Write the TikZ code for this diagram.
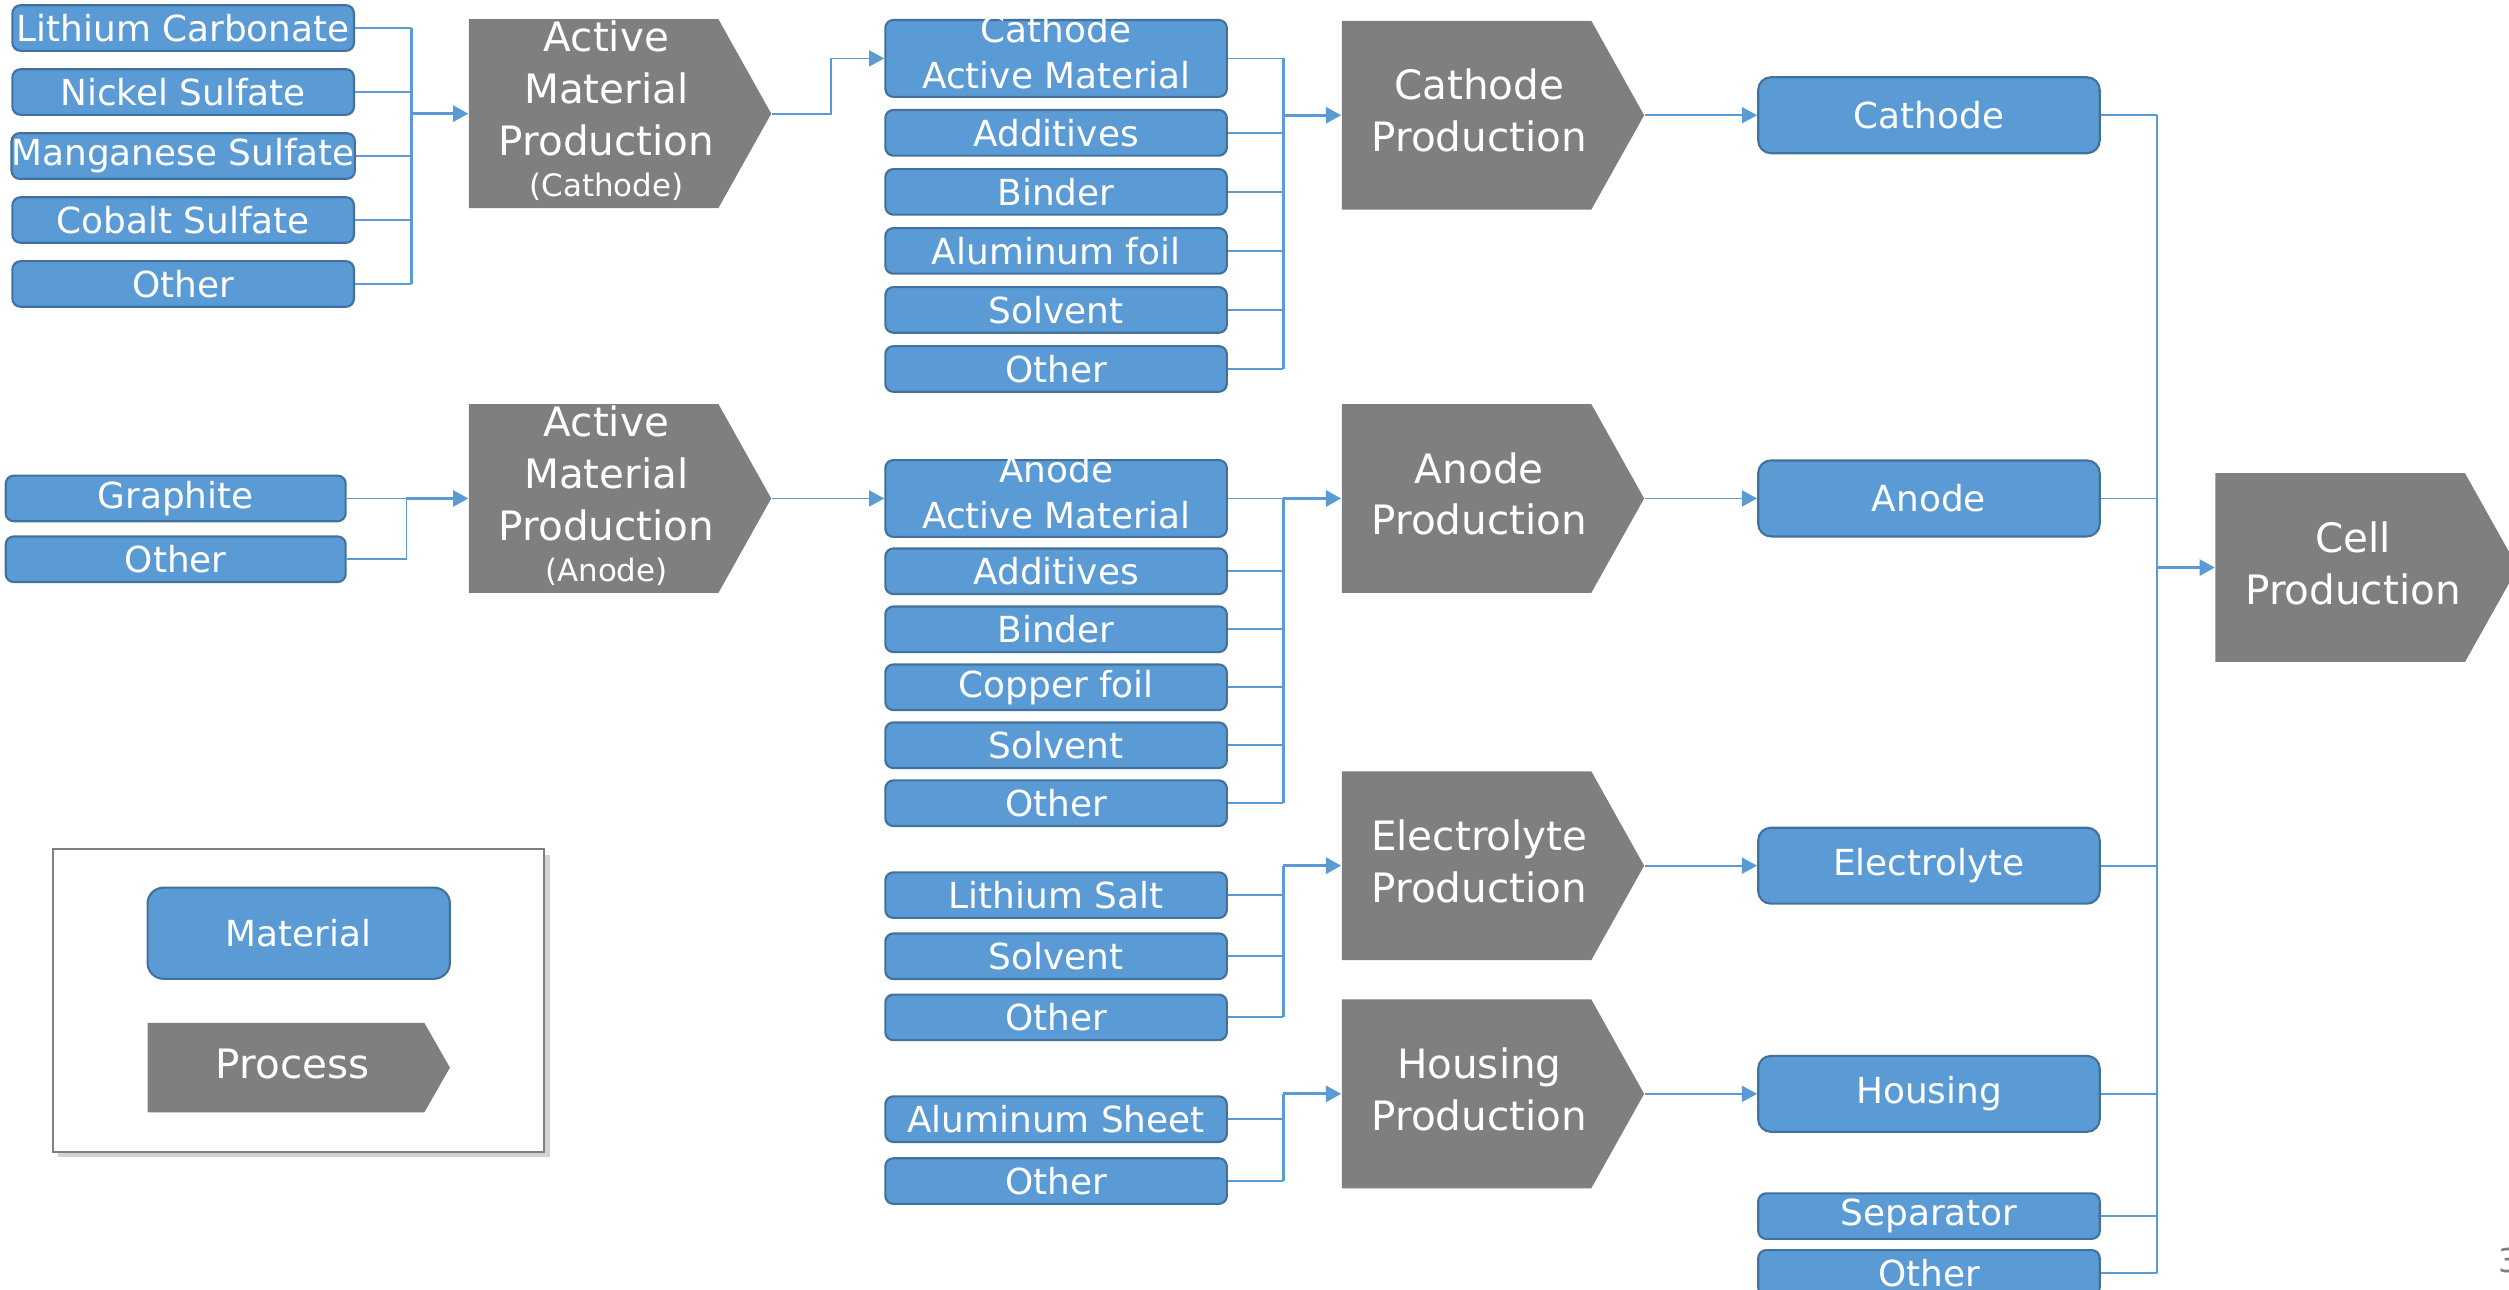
\documentclass[tikz,border=0pt]{standalone}
\usepackage{fontspec}
\setmainfont{DejaVu Sans}
\usepackage{xcolor}
\definecolor{MatBlue}{RGB}{91,155,213}
\definecolor{MatEdge}{RGB}{65,113,156}
\definecolor{ProcGray}{RGB}{127,127,127}
\definecolor{LinkBlue}{RGB}{91,155,213}
\usetikzlibrary{positioning}
\usetikzlibrary{arrows.meta}
\usetikzlibrary{shadows}

\newcommand{\twolines}[2]{\raisebox{-0.38cm}[0pt][0pt]{\begin{tabular}[b]{@{}c@{}}#1\\#2\end{tabular}}}
\newcommand{\proctext}[2][0.34cm]{\raisebox{-0.13cm}[0pt][0pt]{\begin{tabular}{@{}c@{}}#2\end{tabular}}\hspace*{#1}}

\begin{document}
\begin{tikzpicture}[
      x=0.02cm, y=-0.02cm
      , material/.style={rectangle, rounded corners=0.1cm, draw=MatEdge, fill=MatBlue, line width=0.75pt, text=white, minimum width=4.27cm, minimum height=0.57cm, inner sep=0pt, font=\fontsize{12.75}{16.4}\selectfont}
      , part/.style={material, minimum height=0.95cm, rounded corners=0.16cm}
      , tiplen/.store in=\tiplen, tiplen=0.66cm
      , process/.style={rectangle, fill=white, minimum width=3.78cm, minimum height=2.36cm, inner sep=0pt, text=white, font=\fontsize{14.4}{18.4}\selectfont,
          path picture={\fill[ProcGray] (path picture bounding box.north west) -- ([xshift=-\tiplen]path picture bounding box.north east) -- (path picture bounding box.east) -- ([xshift=-\tiplen]path picture bounding box.south east) -- (path picture bounding box.south west) -- cycle;}}
      , link/.style={color=LinkBlue, line width=0.65pt}
      , bus/.style={color=LinkBlue, line width=1pt}
      , feed/.style={->, color=LinkBlue, line width=0.65pt}
      , flow/.style={->, color=LinkBlue, line width=1pt}
      , on grid
      ]

      \tikzset{>={Triangle[length=0.19cm, width=0.2cm]}}

      \useasboundingbox (0,0) rectangle (1568,806);
      \clip (0,0) rectangle (1568,806);

      % cathode raw materials
      \node[material] (li-carb) at (114.5,17.5) {Lithium Carbonate};
      \node[material, below = 0.8cm of li-carb] (ni-sulf) {Nickel Sulfate};
      \node[material, below = 0.8cm of ni-sulf] (mn-sulf) {Manganese Sulfate};
      \node[material, below = 0.8cm of mn-sulf] (co-sulf) {Cobalt Sulfate};
      \node[material, below = 0.8cm of co-sulf] (other-cr) {Other};
      \node[process] (amp-c) at (387.5,71) {\proctext{Active\\Material\\Production\\[-0.13cm]{\fontsize{11}{13}\selectfont (Cathode)}}};

      % cathode electrode materials
      \node[material, minimum height=0.96cm] (cam) at (660,36.5) {\twolines{Cathode}{Active Material}};
      \node[material] (add-c) at (660,83) {Additives};
      \node[material, below = 0.738cm of add-c] (binder-c) {Binder};
      \node[material, below = 0.738cm of binder-c] (al-foil) {Aluminum foil};
      \node[material, below = 0.738cm of al-foil] (solvent-c) {Solvent};
      \node[material, below = 0.738cm of solvent-c] (other-c) {Other};
      \node[process] (cath-prod) at (933,72) {\proctext{Cathode\\Production}};

      % anode raw materials
      \node[material, minimum width=4.25cm] (graphite) at (109.8,311.5) {Graphite};
      \node[material, minimum width=4.25cm, below = 0.76cm of graphite] (other-ar) {Other};
      \node[process] (amp-a) at (387.5,311.5) {\proctext{Active\\Material\\Production\\[-0.13cm]{\fontsize{11}{13}\selectfont (Anode)}}};

      % anode electrode materials
      \node[material, minimum height=0.96cm] (aam) at (660,311.5) {\twolines{Anode}{Active Material}};
      \node[material] (add-a) at (660,357) {Additives};
      \node[material, below = 0.725cm of add-a] (binder-a) {Binder};
      \node[material, below = 0.725cm of binder-a] (cu-foil) {Copper foil};
      \node[material, below = 0.725cm of cu-foil] (solvent-a) {Solvent};
      \node[material, below = 0.725cm of solvent-a] (other-a) {Other};
      \node[process] (an-prod) at (933,311.5) {\proctext{Anode\\Production}};

      % electrolyte
      \node[material] (li-salt) at (660,559.4) {Lithium Salt};
      \node[material, below = 0.764cm of li-salt] (solvent-e) {Solvent};
      \node[material, below = 0.764cm of solvent-e] (other-e) {Other};
      \node[process] (el-prod) at (933,541) {\proctext{Electrolyte\\Production}};

      % housing
      \node[material] (al-sheet) at (660,699.4) {Aluminum Sheet};
      \node[material, below = 0.774cm of al-sheet] (other-h) {Other};
      \node[process] (ho-prod) at (933,683.6) {\proctext{Housing\\Production}};

      % cell parts
      \node[part] (cathode) at (1205.5,72) {Cathode};
      \node[part] (anode) at (1205.5,311.5) {Anode};
      \node[part] (electrolyte) at (1205.5,541) {Electrolyte};
      \node[part] (housing) at (1205.5,683.6) {Housing};
      \node[material] (separator) at (1205.5,760) {Separator};
      \node[material, below = 0.71cm of separator] (other-p) {Other};
      \node[process] (cell) at (1479,354.7) {\proctext{Cell\\Production}};

      % legend
      \node[draw=ProcGray, fill=white, line width=0.75pt, minimum width=6.14cm, minimum height=3.78cm,
            drop shadow={shadow xshift=0.07cm, shadow yshift=-0.07cm, opacity=0.35}] (legend) at (186.5,625.2) {};
      \node[material, minimum width=3.78cm, minimum height=1.14cm, rounded corners=0.2cm] (key-material) at (186.7,583.2) {Material};
      \node[process, minimum height=1.12cm, tiplen=0.32cm] (key-process) at (186.7,667.2) {\proctext[0.15cm]{Process}};

      \node[anchor=base west, inner sep=0pt, text=ProcGray, font=\fontsize{11.7}{14}\selectfont] (page-no) at (1561,795) {3};

      % cathode active material
      \coordinate (bus-amc) at (257,71);
      \draw[link] (li-carb.east) -- (li-carb.east -| bus-amc);
      \draw[link] (ni-sulf.east) -- (ni-sulf.east -| bus-amc);
      \draw[link] (mn-sulf.east) -- (mn-sulf.east -| bus-amc);
      \draw[link] (co-sulf.east) -- (co-sulf.east -| bus-amc);
      \draw[link] (other-cr.east) -- (other-cr.east -| bus-amc);
      \draw[bus] (li-carb.east -| bus-amc) -- (other-cr.east -| bus-amc);
      \draw[flow] (bus-amc) -- (amp-c);
      \draw[feed] (amp-c.east) -- ++(37,0) |- (cam);

      % cathode production
      \coordinate (bus-cp) at (802,72);
      \draw[link] (cam.east) -- (cam.east -| bus-cp);
      \draw[link] (add-c.east) -- (add-c.east -| bus-cp);
      \draw[link] (binder-c.east) -- (binder-c.east -| bus-cp);
      \draw[link] (al-foil.east) -- (al-foil.east -| bus-cp);
      \draw[link] (solvent-c.east) -- (solvent-c.east -| bus-cp);
      \draw[link] (other-c.east) -- (other-c.east -| bus-cp);
      \draw[bus] (cam.east -| bus-cp) -- (other-c.east -| bus-cp);
      \draw[flow] (bus-cp) -- (cath-prod);
      \draw[feed] (cath-prod.east) -- (cathode);

      % anode active material
      \coordinate (bus-ama) at (254,311.5);
      \draw[link] (graphite.east) -- (bus-ama);
      \draw[link] (other-ar.east) -| (bus-ama);
      \draw[flow] (bus-ama) -- (amp-a);
      \draw[feed] (amp-a.east) -- (aam);

      % anode production
      \coordinate (bus-ap) at (802,311.5);
      \draw[link] (aam.east) -- (bus-ap);
      \draw[link] (add-a.east) -- (add-a.east -| bus-ap);
      \draw[link] (binder-a.east) -- (binder-a.east -| bus-ap);
      \draw[link] (cu-foil.east) -- (cu-foil.east -| bus-ap);
      \draw[link] (solvent-a.east) -- (solvent-a.east -| bus-ap);
      \draw[link] (other-a.east) -- (other-a.east -| bus-ap);
      \draw[bus] (bus-ap) -- (other-a.east -| bus-ap);
      \draw[flow] (bus-ap) -- (an-prod);
      \draw[feed] (an-prod.east) -- (anode);

      % electrolyte production
      \coordinate (bus-ep) at (802,541);
      \draw[link] (li-salt.east) -- (li-salt.east -| bus-ep);
      \draw[link] (solvent-e.east) -- (solvent-e.east -| bus-ep);
      \draw[link] (other-e.east) -- (other-e.east -| bus-ep);
      \draw[bus] (bus-ep) -- (other-e.east -| bus-ep);
      \draw[flow] (bus-ep) -- (el-prod);
      \draw[feed] (el-prod.east) -- (electrolyte);

      % housing production
      \coordinate (bus-hp) at (802,683.6);
      \draw[link] (al-sheet.east) -- (al-sheet.east -| bus-hp);
      \draw[link] (other-h.east) -- (other-h.east -| bus-hp);
      \draw[bus] (bus-hp) -- (other-h.east -| bus-hp);
      \draw[flow] (bus-hp) -- (ho-prod);
      \draw[feed] (ho-prod.east) -- (housing);

      % cell production
      \coordinate (bus-cell) at (1348,354.7);
      \draw[link] (cathode.east) -- (cathode.east -| bus-cell);
      \draw[link] (anode.east) -- (anode.east -| bus-cell);
      \draw[link] (electrolyte.east) -- (electrolyte.east -| bus-cell);
      \draw[link] (housing.east) -- (housing.east -| bus-cell);
      \draw[link] (separator.east) -- (separator.east -| bus-cell);
      \draw[link] (other-p.east) -- (other-p.east -| bus-cell);
      \draw[bus] (cathode.east -| bus-cell) -- (other-p.east -| bus-cell);
      \draw[flow] (bus-cell) -- (cell);
    \end{tikzpicture}
\end{document}
